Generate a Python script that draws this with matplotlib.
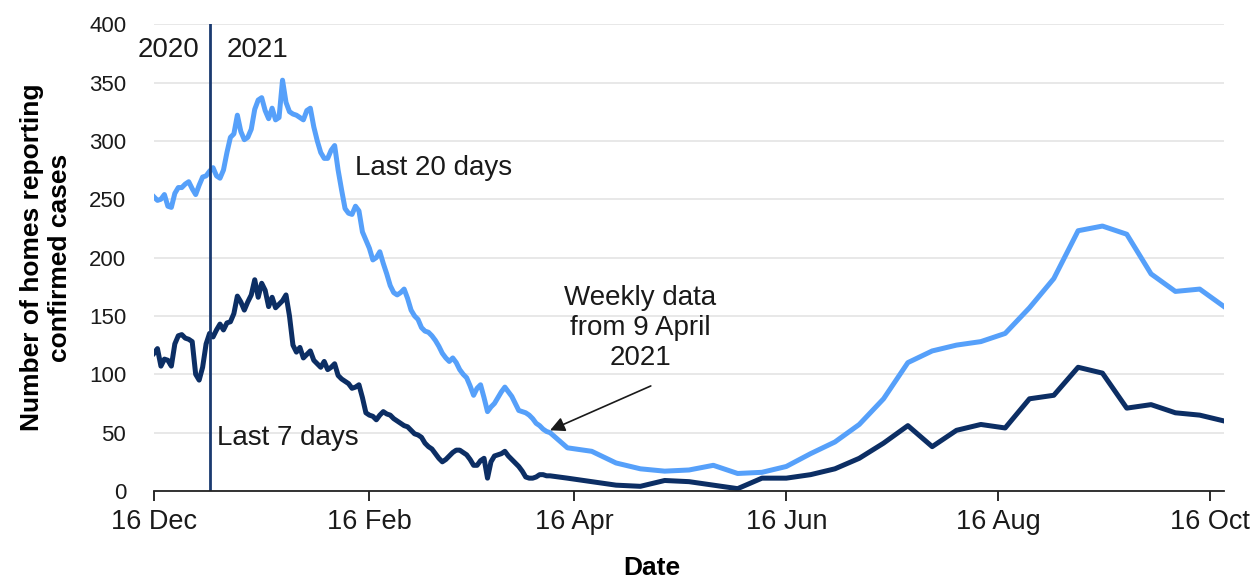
import numpy as np
import pandas as pd
import matplotlib
matplotlib.use("Agg")
import matplotlib.pyplot as plt

plt.rcParams['font.family'] = ['Liberation Sans', 'DejaVu Sans']

# -------------------------------
# Data: daily values to 9 April 2021, weekly (Wednesdays) afterwards
# -------------------------------
daily_dates = pd.date_range('2020-12-16', '2021-04-09', freq='D')
weekly_dates = pd.date_range('2021-04-14', '2021-10-20', freq='7D')

last20_daily = [
    252, 249, 250, 254, 244, 243, 255, 260, 260, 263,
    265, 259, 254, 262, 269, 270, 274, 277, 270, 268,
    275, 290, 303, 306, 322, 308, 301, 303, 310, 327,
    335, 337, 326, 319, 328, 318, 320,
    352, 333, 325, 323, 322, 320, 318, 326, 328, 312,
    300, 290, 285, 285, 292, 296, 275, 258, 242, 238,
    237, 244, 240, 222, 215, 208, 198, 200, 205, 195,
    186, 176, 170,
    168, 170, 173, 165, 155, 150, 147, 140, 137, 136,
    133, 129, 124, 118, 114, 111, 114, 110, 104, 100,
    97, 90, 82, 88, 91, 80, 68, 72, 75, 80,
    85, 89, 85, 81, 75, 69, 68, 67, 65, 62,
    58, 56, 53, 51, 50,
]
last7_daily = [
    118, 122, 107, 113, 112, 107, 126, 133, 134, 131,
    130, 128, 100, 95, 106, 126, 135, 132, 138, 143,
    138, 144, 145, 152, 167, 162, 155, 162, 168, 181,
    166, 178, 172, 158, 166, 157, 160, 163, 168, 150,
    125, 119,
    123, 114, 117, 120, 112, 109, 106, 111, 104, 106,
    109, 99, 96, 94, 92, 88, 89, 91, 80, 67,
    65, 64, 61, 65, 68, 66, 65, 62, 60, 58,
    56, 55, 52, 49, 48, 46, 41, 38,
    36, 32, 28, 25, 27, 30, 33, 35, 35, 33,
    31, 27, 22, 22, 26, 28, 11, 25, 30, 31,
    32, 34, 30, 27, 24, 21, 17, 12, 11, 11,
    12, 14, 14, 13, 13,
]
last20_weekly = [37, 34, 24, 19, 17, 18, 22, 15, 16, 21, 32, 42, 57, 79,
                 110, 120, 125, 128, 135, 157, 182, 223, 227, 220, 186, 171, 173, 158]
last7_weekly = [11, 8, 5, 4, 9, 8, 5, 2, 11, 11, 14, 19, 28, 41,
                56, 38, 52, 57, 54, 79, 82, 106, 101, 71, 74, 67, 65, 60]

tick_dates = pd.to_datetime(['2020-12-16', '2021-02-16', '2021-04-16',
                             '2021-06-16', '2021-08-16', '2021-10-16'])
tick_labels = ['16 Dec', '16 Feb', '16 Apr', '16 Jun', '16 Aug', '16 Oct']
year_break = pd.Timestamp('2021-01-01')

dates = daily_dates.append(weekly_dates)
last20 = np.array(last20_daily + last20_weekly)
last7 = np.array(last7_daily + last7_weekly)

# -------------------------------
# Plot
# -------------------------------
light = '#56A0FA'
dark = '#0C2E64'

fig = plt.figure(figsize=(12.58, 5.85), dpi=100)
ax = fig.add_axes([0.1224, 0.1607, 0.8506, 0.798])

ax.plot(dates, last20, color=light, lw=3.6, solid_joinstyle='round')
ax.plot(dates, last7, color=dark, lw=3.6, solid_joinstyle='round')
ax.axvline(year_break, color='#1A3A70', lw=2)

ax.set_xlim(pd.Timestamp('2020-12-16'), pd.Timestamp('2021-10-20'))
ax.set_ylim(0, 400)
ax.set_yticks(np.arange(0, 401, 50))
ax.set_xticks(tick_dates)
ax.set_xticklabels(tick_labels)

ax.yaxis.grid(True, color='#e4e4e4', lw=1.2)
ax.set_axisbelow(True)
for s in ['top', 'right', 'left']:
    ax.spines[s].set_visible(False)
ax.spines['bottom'].set_color('#222222')
ax.spines['bottom'].set_linewidth(1.3)

ax.tick_params(axis='y', length=0, labelsize=16, pad=20, colors='#1a1a1a')
ax.tick_params(axis='x', length=7, width=1.3, direction='out', labelsize=19.5,
               pad=6, colors='#1a1a1a')

ax.set_ylabel('Number of homes reporting\nconfirmed cases', fontsize=19,
              fontweight='bold', labelpad=12)
ax.set_xlabel('Date', fontsize=19, fontweight='bold')
ax.xaxis.set_label_coords(0.465, -0.14)

# Annotations
txt = dict(fontsize=20, color='#1a1a1a')
ax.text(pd.Timestamp('2020-12-29'), 378, '2020', ha='right', va='center', **txt)
ax.text(pd.Timestamp('2021-01-06'), 378, '2021', ha='left', va='center', **txt)
ax.text(pd.Timestamp('2021-02-12'), 277, 'Last 20 days', ha='left', va='center', **txt)
ax.text(pd.Timestamp('2021-01-03'), 45, 'Last 7 days', ha='left', va='center', **txt)
ax.text(pd.Timestamp('2021-05-05'), 140, 'Weekly data\nfrom 9 April\n2021',
        ha='center', va='center', linespacing=1.2, **txt)
ax.annotate('', xy=(pd.Timestamp('2021-04-09'), 52),
            xytext=(pd.Timestamp('2021-05-08'), 90),
            arrowprops=dict(arrowstyle='-|>', color='#1a1a1a', lw=1.2,
                            mutation_scale=22, shrinkA=0, shrinkB=0))

fig.savefig('out.png', dpi=100)
